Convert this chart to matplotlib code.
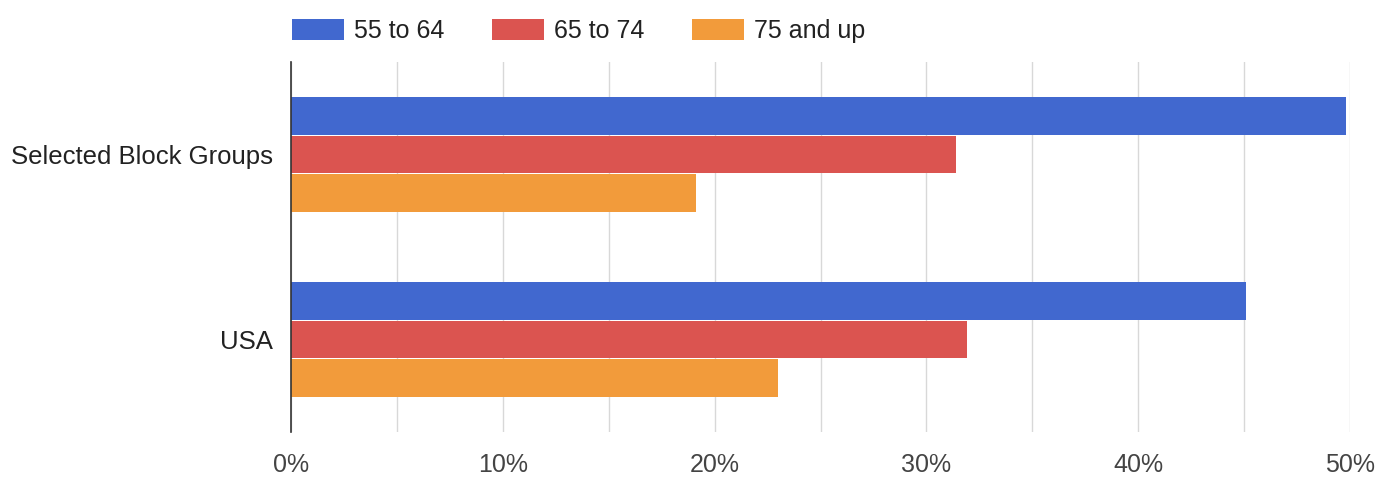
import matplotlib
matplotlib.use("Agg")
import matplotlib.pyplot as plt
import numpy as np
from matplotlib.patches import Patch
from matplotlib.ticker import MultipleLocator, FuncFormatter

plt.rcParams['font.family'] = ['Liberation Sans', 'DejaVu Sans']

categories = ["Selected Block Groups", "USA"]
series_names = ["55 to 64", "65 to 74", "75 and up"]
values_55_64 = [49.8, 45.1]
values_65_74 = [31.4, 31.9]
values_75_up = [19.1, 23.0]
colors = ["#4168CF", "#DB5450", "#F29B3B"]

fig = plt.figure(figsize=(13.91, 4.83), dpi=100)
ax = fig.add_axes([291/1391, 1-432/483, (1350-291)/1391, (432-62)/483])

y = np.arange(len(categories))
h = 0.21
series = [values_55_64, values_65_74, values_75_up]
for i, (vals, c) in enumerate(zip(series, colors)):
    ax.barh(y + (i - 1) * h, vals, height=h - 0.006, color=c, zorder=3)

ax.set_xlim(0, 50)
ax.set_ylim(1.5, -0.5)
ax.xaxis.set_major_locator(MultipleLocator(10))
ax.xaxis.set_minor_locator(MultipleLocator(5))
ax.xaxis.set_major_formatter(FuncFormatter(lambda v, p: f"{int(v)}%"))
ax.grid(axis='x', which='both', color='#d8d8d8', linewidth=1, zorder=0)
ax.set_yticks(y)
ax.set_yticklabels(categories, fontsize=18.5, color='#222222')
ax.tick_params(axis='y', length=0, pad=13)
ax.tick_params(axis='x', which='both', length=0, pad=15, labelsize=18, labelcolor='#444444')
for s in ['top', 'right', 'bottom']:
    ax.spines[s].set_visible(False)
ax.spines['left'].set_color('#333333')
ax.spines['left'].set_linewidth(1.2)
ax.spines['left'].set_zorder(4)

handles = [Patch(facecolor=c, edgecolor='none') for c in colors]
leg = fig.legend(handles, series_names, loc='upper left', bbox_to_anchor=(292/1391, 1-19/483),
           ncol=3, frameon=False, fontsize=18, handlelength=2.08, handleheight=0.88,
           handletextpad=0.4, columnspacing=1.9, borderpad=0, borderaxespad=0)
for t in leg.get_texts():
    t.set_color('#222222')

fig.savefig("out.png", dpi=100, facecolor='white')
